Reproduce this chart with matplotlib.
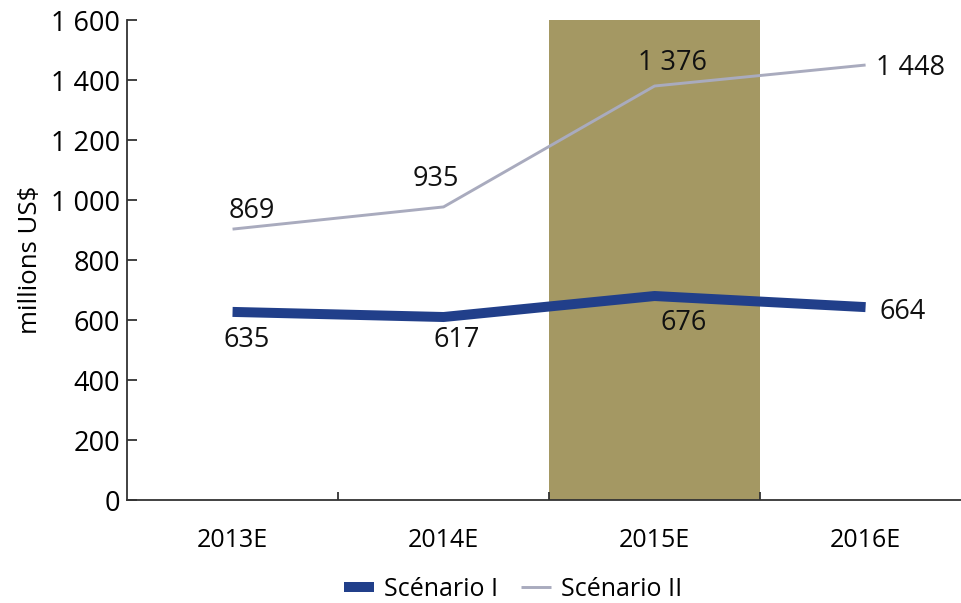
import matplotlib.pyplot as plt
from matplotlib.ticker import FuncFormatter, FixedLocator

plt.rcParams['font.family'] = ['Open Sans', 'DejaVu Sans']

# --- data ---
years = ["2013E", "2014E", "2015E", "2016E"]
scenario_1 = [627, 610, 680, 643]        # plotted line (heavy blue)
scenario_2 = [903, 977, 1380, 1450]      # plotted line (thin grey)
labels_1 = ["635", "617", "676", "664"]  # printed values
labels_2 = ["869", "935", "1 376", "1 448"]
highlight = "2015E"

# label offsets in pixels (dx, dy), plus horizontal alignment
offs_1 = [(14, -28, 'center'), (13, -23, 'center'), (29, -27, 'center'), (14, -5, 'left')]
offs_2 = [(19, 18, 'center'), (-8, 28, 'center'), (18, 23, 'center'), (10, -3, 'left')]

fig = plt.figure(figsize=(9.61, 6.03), dpi=100)
ax = fig.add_axes([0.1322, 0.1708, 0.8783, 0.796])

x = list(range(len(years)))
hi = years.index(highlight)
ax.axvspan(hi - 0.5, hi + 0.5, color='#a49863', zorder=0, lw=0)

ax.plot(x, scenario_1, color='#213f8a', lw=7.2, solid_joinstyle='miter',
        solid_capstyle='butt', label='Scénario I', zorder=3)
ax.plot(x, scenario_2, color='#a9abbe', lw=2.1, solid_capstyle='butt',
        label='Scénario II', zorder=3)

for xi, v, t, (dx, dy, ha) in zip(x, scenario_1, labels_1, offs_1):
    ax.annotate(t, (xi, v), xytext=(dx, dy), textcoords='offset pixels',
                ha=ha, va='center', fontsize=19.5, color='#111111', zorder=4)
for xi, v, t, (dx, dy, ha) in zip(x, scenario_2, labels_2, offs_2):
    ax.annotate(t, (xi, v), xytext=(dx, dy), textcoords='offset pixels',
                ha=ha, va='center', fontsize=19.5, color='#111111', zorder=4)

ax.set_xlim(-0.5, len(years) - 0.5)
ax.set_ylim(0, 1600)
ax.set_yticks(range(0, 1601, 200))
ax.yaxis.set_major_formatter(FuncFormatter(lambda v, _: f"{int(v):,}".replace(",", " ")))
ax.set_xticks(x)
ax.set_xticklabels(years)
ax.xaxis.set_minor_locator(FixedLocator([i + 0.5 for i in range(len(years) - 1)]))

for s in ['top', 'right']:
    ax.spines[s].set_visible(False)
for s in ['left', 'bottom']:
    ax.spines[s].set_color('#333333')
    ax.spines[s].set_linewidth(1.3)

ax.tick_params(axis='y', direction='in', length=7, width=1.3, color='#333333',
               labelsize=19.5, pad=5)
ax.tick_params(axis='x', which='major', length=0, labelsize=18, pad=20)
ax.tick_params(axis='x', which='minor', direction='in', length=6, width=1.3, color='#333333')

ax.set_ylabel(r"millions US\$", fontsize=18.5, labelpad=6)

leg = fig.legend(loc='center', bbox_to_anchor=(0.534, 0.022), ncol=2, frameon=False,
                 fontsize=18, handlelength=1.2, handletextpad=0.4, columnspacing=0.9,
                 borderpad=0.2)

fig.savefig('out.png', dpi=100)
